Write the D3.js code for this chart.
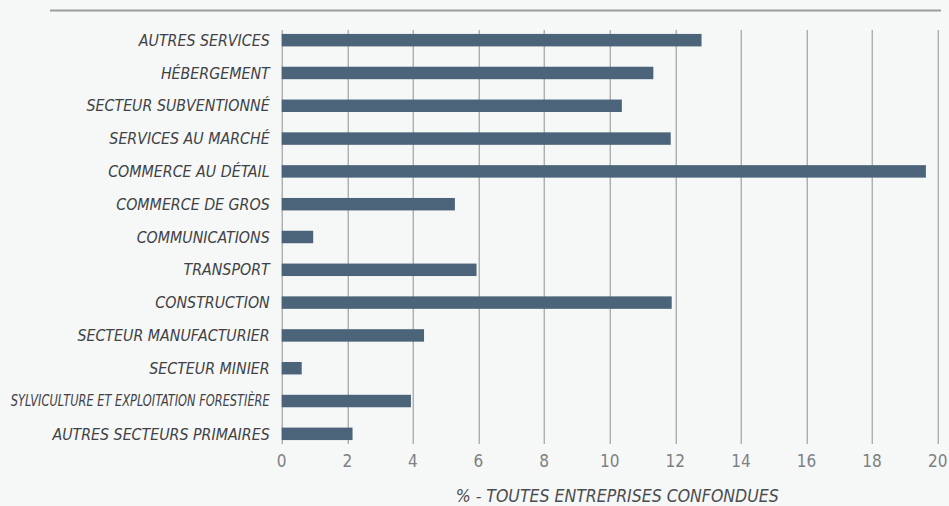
<!DOCTYPE html>
<html>
<head>
<meta charset="utf-8">
<script src="https://cdn.jsdelivr.net/npm/d3@7"></script>
<style>
    html, body { margin: 0; padding: 0; background: #f6f7f7; }
    svg { display: block; }
</style>
</head>
<body>
<div id="chart"></div>
<script>
// Répartition par secteur (% - toutes entreprises confondues)
const categories = [
    'AUTRES SERVICES',
    'HÉBERGEMENT',
    'SECTEUR SUBVENTIONNÉ',
    'SERVICES AU MARCHÉ',
    'COMMERCE AU DÉTAIL',
    'COMMERCE DE GROS',
    'COMMUNICATIONS',
    'TRANSPORT',
    'CONSTRUCTION',
    'SECTEUR MANUFACTURIER',
    'SECTEUR MINIER',
    'SYLVICULTURE ET EXPLOITATION FORESTIÈRE',
    'AUTRES SECTEURS PRIMAIRES'
];
const values = [12.8, 11.33, 10.37, 11.86, 19.64, 5.28, 0.96, 5.94, 11.89, 4.34, 0.61, 3.94, 2.16];
const xTicks = [0, 2, 4, 6, 8, 10, 12, 14, 16, 18, 20];
const axisTitle = '% - TOUTES ENTREPRISES CONFONDUES';

function createChart() {
    const W = 949, H = 506;
    const margin = { top: 30, right: 11.3, bottom: 62, left: 281.7 };
    const width = W - margin.left - margin.right;
    const height = H - margin.top - margin.bottom;

    const root = d3.select('#chart').append('svg')
        .attr('width', W)
        .attr('height', H);

    root.append('rect')
        .attr('width', W)
        .attr('height', H)
        .attr('fill', '#f6f7f7');

    // Top rule
    root.append('line')
        .attr('x1', 50).attr('x2', 941)
        .attr('y1', 10.5).attr('y2', 10.5)
        .attr('stroke', '#9a9c9e')
        .attr('stroke-width', 2);

    const svg = root.append('g')
        .attr('transform', `translate(${margin.left},${margin.top})`);

    // Scales
    const x = d3.scaleLinear()
        .domain([0, 20])
        .range([0, width]);

    const y = d3.scaleBand()
        .domain(categories)
        .range([0, height])
        .paddingInner(0.62)
        .paddingOuter(0.12);

    // Grid
    svg.append('g')
        .attr('class', 'grid')
        .selectAll('line')
        .data(xTicks)
        .enter()
        .append('line')
        .attr('x1', d => Math.round(x(d)) + 0.5)
        .attr('x2', d => Math.round(x(d)) + 0.5)
        .attr('y1', 0)
        .attr('y2', height)
        .attr('stroke', '#8d9094')
        .attr('stroke-width', 1);

    // Bars
    svg.selectAll('.bar')
        .data(categories)
        .enter()
        .append('rect')
        .attr('class', 'bar')
        .attr('x', x(0))
        .attr('y', d => y(d))
        .attr('width', (d, i) => x(values[i]) - x(0))
        .attr('height', y.bandwidth())
        .attr('fill', '#4b6479');

    // Category labels
    svg.selectAll('.cat')
        .data(categories)
        .enter()
        .append('text')
        .attr('class', 'cat')
        .attr('x', -12)
        .attr('y', d => y(d) + y.bandwidth() / 2)
        .attr('dy', '0.36em')
        .attr('text-anchor', 'end')
        .attr('font-family', '"DejaVu Sans Condensed", "DejaVu Sans", sans-serif')
        .attr('font-style', 'italic')
        .attr('font-size', d => d.length > 30 ? '15px' : '15.8px')
        .attr('fill', '#404245')
        .text(d => d)
        .each(function (d) {
            // the long label is squeezed in the original
            if (d.length > 30) {
                d3.select(this)
                    .attr('textLength', 259)
                    .attr('lengthAdjust', 'spacingAndGlyphs');
            }
        });

    // X axis tick labels
    svg.selectAll('.tick-label')
        .data(xTicks)
        .enter()
        .append('text')
        .attr('class', 'tick-label')
        .attr('x', d => x(d))
        .attr('y', height + 23)
        .attr('text-anchor', 'middle')
        .attr('font-family', '"DejaVu Sans Condensed", "DejaVu Sans", sans-serif')
        .attr('font-size', '17px')
        .attr('fill', '#7d8084')
        .text(d => d);

    // Axis title
    svg.append('text')
        .attr('x', width / 2 + 7.5)
        .attr('y', height + 58)
        .attr('text-anchor', 'middle')
        .attr('font-family', '"DejaVu Sans Condensed", "DejaVu Sans", sans-serif')
        .attr('font-style', 'italic')
        .attr('font-size', '17.5px')
        .attr('fill', '#4a4d50')
        .text(axisTitle);
}

createChart();
</script>
</body>
</html>
